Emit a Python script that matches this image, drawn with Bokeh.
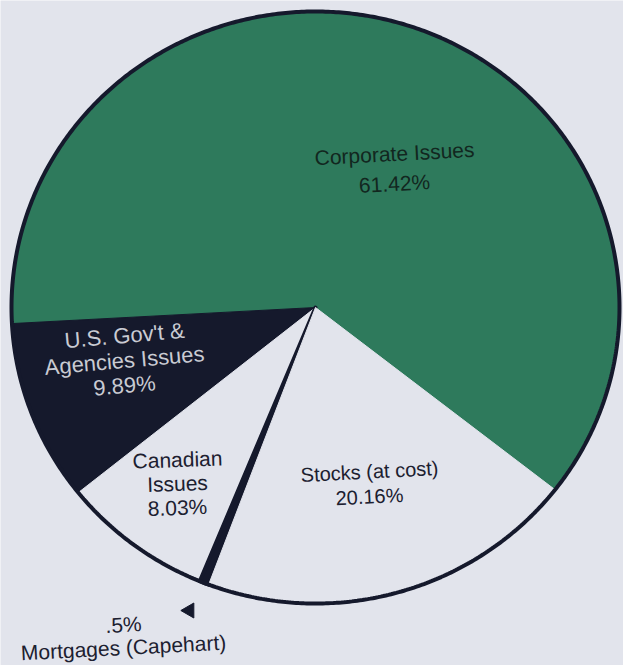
import numpy as np
from bokeh.plotting import figure
from bokeh.models import Range1d
from bokeh.core.properties import value
from bokeh.embed import file_html
from bokeh.resources import INLINE

# ---- data ----
categories = ["Corporate Issues", "U.S. Gov't & Agencies Issues", "Canadian Issues",
              "Mortgages (Capehart)", "Stocks (at cost)"]
shares = [61.42, 9.89, 8.03, 0.5, 20.16]
label_lines = [["Corporate Issues"], ["U.S. Gov't &", "Agencies Issues"],
               ["Canadian", "Issues"], ["Mortgages (Capehart)"], ["Stocks (at cost)"]]

# ---- style / layout ----
W, H = 623, 665
GREEN = "#2e7a5c"
NAVY = "#15192c"
PAPER = "#e2e4ec"
fills = [GREEN, NAVY, PAPER, NAVY, PAPER]
cx, cy = 315, H - 307
rx, ry = 304, 296
start_deg = -38.0

p = figure(width=W, height=H, output_backend="svg", toolbar_location=None,
           x_range=Range1d(0, W), y_range=Range1d(0, H), min_border=0)
p.axis.visible = False
p.grid.visible = False
p.outline_line_color = None
p.background_fill_color = PAPER
p.border_fill_color = PAPER

sh = np.array(shares, dtype=float)
ends = np.deg2rad(start_deg) + 2 * np.pi * np.cumsum(sh) / sh.sum()
starts = np.concatenate([[np.deg2rad(start_deg)], ends[:-1]])

xs, ys = [], []
for a0, a1 in zip(starts, ends):
    t = np.linspace(a0, a1, max(4, int(np.degrees(a1 - a0) * 2)))
    xs.append(np.concatenate([[cx], cx + rx * np.cos(t), [cx]]).tolist())
    ys.append(np.concatenate([[cy], cy + ry * np.sin(t), [cy]]).tolist())

line_cols = list(fills)
line_w = [1, 1, 1, 4, 1]
p.patches(xs, ys, fill_color=fills, line_color=line_cols, line_width=line_w,
          line_join="round")

# outer rim
t = np.linspace(0, 2 * np.pi, 720)
p.line(cx + rx * np.cos(t), cy + ry * np.sin(t), line_color=NAVY, line_width=4)

# ---- labels ----
def pct(v):
    return ("%g%%" % v).lstrip("0")

font = value("Liberation Sans")
DARK = "#1c2030"
LIGHT = "#c9cbd3"

# (x, y_px of first line, line gap, angle deg, color, size)
label_layout = [
    (394, 153, 30, 3, "#12271f", "21px"),
    (124, 335, 25, 5, LIGHT, "22px"),
    (177, 459, 24, 2, DARK, "21px"),
    (123, 647, 23, 3, DARK, "21px"),
    (369, 471, 25, 3, DARK, "20px"),
]

for i, (lines, lay) in enumerate(zip(label_lines, label_layout)):
    x0, y0, gap, ang, col, size = lay
    if i == 3:
        texts = [pct(shares[i]), lines[0]]
        y_list = [H - (y0 - gap), H - y0]
    else:
        texts = lines + [pct(shares[i])]
        y_list = [H - (y0 + k * gap) for k in range(len(texts))]
    p.text(x=[x0] * len(texts), y=y_list, text=texts, text_align="center",
           text_baseline="middle", text_font=font, text_font_size=size,
           text_color=col, angle=np.deg2rad(ang))

# pointer triangle for the mortgage slice
p.scatter(x=[189], y=[H - 610], marker="triangle", size=15, angle=np.pi / 2,
          fill_color=NAVY, line_color=NAVY)

open("out.html", "w").write(file_html(p, INLINE))
